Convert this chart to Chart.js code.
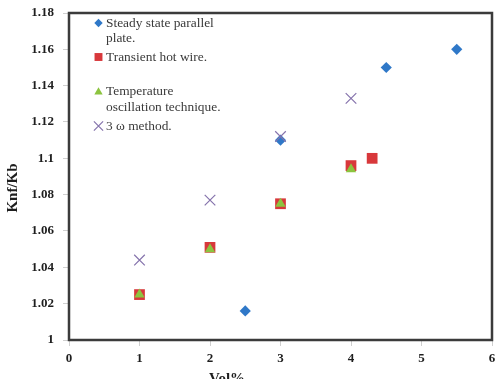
<!DOCTYPE html>
<html>
<head>
<meta charset="utf-8">
<script src="https://cdn.jsdelivr.net/npm/chart.js@4/dist/chart.umd.min.js"></script>
<style>
  html, body { margin: 0; padding: 0; background: #fff; overflow: hidden; }
  #wrap { width: 497px; height: 379px; }
</style>
</head>
<body>
<div id="wrap"><canvas id="c" width="497" height="379"></canvas></div>
<script>
// Measured thermal conductivity ratio (Knf/Kb) against volume fraction
const steadyX = [2.5, 3, 4.5, 5.5];
const steadyY = [1.016, 1.11, 1.15, 1.16];

const hotWireX = [1, 2, 3, 4, 4.3];
const hotWireY = [1.025, 1.051, 1.075, 1.096, 1.1];

const oscX = [1, 2, 3, 4];
const oscY = [1.025, 1.05, 1.075, 1.094];

const omegaX = [1, 2, 3, 4];
const omegaY = [1.044, 1.077, 1.112, 1.133];

const xTickValues = [0, 1, 2, 3, 4, 5, 6];
const yTickValues = [1, 1.02, 1.04, 1.06, 1.08, 1.1, 1.12, 1.14, 1.16, 1.18];

const legendLines = [
  ['Steady state parallel', 'plate.'],
  ['Transient hot wire.'],
  ['Temperature', 'oscillation technique.'],
  ['3 \u03c9 method.']
];

const xTitle = 'Vol%';
const yTitle = 'Knf/Kb';

const pts = (xs, ys) => xs.map((x, i) => ({ x, y: ys[i] }));
const SERIF = '"Liberation Serif", "Times New Roman", serif';

const styles = [
  { pointStyle: 'rectRot', radius: 5.6, color: '#2f78c8', border: 0 },
  { pointStyle: 'rect', radius: 7.6, color: '#d8383b', border: 0 },
  { pointStyle: 'triangle', radius: 6, color: '#8cc43f', border: 0 },
  { pointStyle: 'crossRot', radius: 7.5, color: '#8573ac', border: 1.2 }
];

const datasets = [
  { label: legendLines[0].join(' '), data: pts(steadyX, steadyY), order: 2 },
  { label: legendLines[1].join(' '), data: pts(hotWireX, hotWireY), order: 3 },
  { label: legendLines[2].join(' '), data: pts(oscX, oscY), order: 1 },
  { label: legendLines[3].join(' '), data: pts(omegaX, omegaY), order: 0 }
].map((d, i) => {
  const s = styles[i];
  return Object.assign(d, {
    pointStyle: s.pointStyle,
    pointRadius: s.radius,
    pointHoverRadius: s.radius,
    backgroundColor: s.color,
    borderColor: s.color,
    pointBorderWidth: s.border,
    borderWidth: s.border,
    showLine: false
  });
});

// Frame around the plot area, axis titles and the in-plot legend
const decorations = {
  id: 'decorations',
  afterDatasetsDraw(chart) {
    const { ctx, chartArea: a } = chart;
    ctx.save();
    ctx.strokeStyle = '#3b3b3b';
    ctx.lineWidth = 2.5;
    ctx.strokeRect(a.left, a.top, a.right - a.left, a.bottom - a.top);

    // axis titles
    ctx.fillStyle = '#1e1e1e';
    ctx.font = 'bold 15px ' + SERIF;
    ctx.textAlign = 'center';
    ctx.textBaseline = 'alphabetic';
    ctx.fillText(xTitle, 227, 383);
    ctx.save();
    ctx.translate(17, 188);
    ctx.rotate(-Math.PI / 2);
    ctx.fillText(yTitle, 0, 0);
    ctx.restore();

    // legend
    const rowY = [[23, 38], [57], [91, 107], [126]];
    ctx.font = '13.4px ' + SERIF;
    ctx.textAlign = 'left';
    ctx.textBaseline = 'middle';
    legendLines.forEach((lines, i) => {
      const s = styles[i];
      const mr = { rectRot: 4.2, rect: 5.6, triangle: 4.8, crossRot: 6.5 }[s.pointStyle];
      ctx.fillStyle = s.color;
      ctx.strokeStyle = s.color;
      ctx.lineWidth = s.border || 1;
      Chart.helpers.drawPoint(ctx, { pointStyle: s.pointStyle, radius: mr, borderWidth: s.border, rotation: 0 }, 98.5, rowY[i][0] + (s.pointStyle === 'triangle' ? 1 : 0));
      ctx.fillStyle = '#3a3a3a';
      lines.forEach((t, j) => ctx.fillText(t, 106, rowY[i][j]));
    });
    ctx.restore();
  }
};

new Chart(document.getElementById('c'), {
  type: 'scatter',
  data: { datasets },
  plugins: [decorations],
  options: {
    responsive: false,
    animation: false,
    devicePixelRatio: 1,
    layout: { autoPadding: false, padding: { top: 13, right: 5, left: 0, bottom: 0 } },
    plugins: { legend: { display: false }, tooltip: { enabled: false } },
    scales: {
      x: {
        type: 'linear',
        min: 0, max: 6,
        afterFit(scale) { scale.height = 39; },
        afterBuildTicks(scale) { scale.ticks = xTickValues.map(v => ({ value: v })); },
        // long tick slot keeps labels clear of the axis; the dash shows only a short mark
        grid: { drawOnChartArea: false, drawTicks: true, tickLength: 11, tickBorderDash: [6, 40], color: '#cfcfcf' },
        border: { display: false },
        ticks: {
          padding: 0,
          color: '#1e1e1e',
          font: { family: SERIF, size: 13, weight: 'bold' },
          callback: v => String(v)
        }
      },
      y: {
        type: 'linear',
        min: 1, max: 1.18,
        afterFit(scale) { scale.width = 69; scale.paddingTop = 0; scale.paddingBottom = 0; },
        afterBuildTicks(scale) { scale.ticks = yTickValues.map(v => ({ value: v })); },
        grid: { drawOnChartArea: false, drawTicks: true, tickLength: 6, color: '#cfcfcf' },
        border: { display: false },
        ticks: {
          padding: 9,
          color: '#1e1e1e',
          font: { family: SERIF, size: 13, weight: 'bold' },
          callback: v => String(Number(v.toFixed(2)))
        }
      }
    }
  }
});
</script>
</body>
</html>
